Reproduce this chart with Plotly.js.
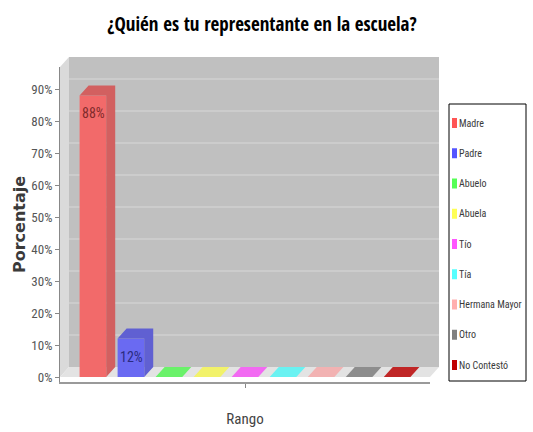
<!DOCTYPE html>
<html>
<head>
<meta charset="utf-8">
<script src="https://cdn.plot.ly/plotly-3.0.1.min.js"></script>
<style>html,body{margin:0;padding:0;background:#fff;}#chart{width:533px;height:432px;}</style>
</head>
<body>
<div id="chart"></div>
<script>
// ---- data ----
const categories = ['Rango'];
const seriesNames = ['Madre', 'Padre', 'Abuelo', 'Abuela', 'Tío', 'Tía', 'Hermana Mayor', 'Otro', 'No Contestó'];
const values = [88, 12, 0, 0, 0, 0, 0, 0, 0];
const yTickVals = [0, 10, 20, 30, 40, 50, 60, 70, 80, 90];
const yTickText = ['0%', '10%', '20%', '30%', '40%', '50%', '60%', '70%', '80%', '90%'];

// ---- styles ----
const baseColors = [[255,85,85],[85,85,255],[85,255,85],[255,255,85],[255,85,255],[85,255,255],[255,175,175],[128,128,128],[192,0,0]];
const wallGray = 192, alpha = 0.8;
const rgb = c => `rgb(${c.map(v => Math.round(v)).join(',')})`;
const blend = (c, f) => c.map(v => v * f * alpha + wallGray * (1 - alpha));
const frontColors = baseColors.map(c => rgb(blend(c, 1)));
const shadeColors = baseColors.map(c => rgb(blend(c, 0.84)));
const labelColors = baseColors.map(c => rgb(c.map(v => v * 0.5)));
const legendColors = baseColors.map(rgb);

// geometry of the frame (pixels)
const M = {l: 60, r: 103, t: 67, b: 50};
const plotW = 533 - M.l - M.r, plotH = 432 - M.t - M.b;
const zeroPx = 377, pxPerPct = 3.2, depthX = 9, depthY = 10;
const px2x = p => (p - M.l) / plotW;
const py2y = p => (M.t + plotH - p) / plotH;
const yRange = [-(M.t + plotH - zeroPx) / pxPerPct, (zeroPx - M.t) / pxPerPct];
const bargap = 0.075, bargroupgap = 0.3;
const nS = values.length;
const slot = (1 - bargap) / nS;
const bw = slot * (1 - bargroupgap);
const dxU = depthX / plotW;          // x axis range spans 1 unit over plotW px
const dyU = depthY / pxPerPct;

const COND = 'Roboto Condensed, DejaVu Sans Condensed, sans-serif';
const TITLEF = 'Open Sans Condensed, Roboto Condensed, sans-serif';

const traces = [];
// front faces
seriesNames.forEach((name, i) => {
  traces.push({
    type: 'bar', name: name, x: categories, y: [values[i]],
    marker: {color: frontColors[i], line: {width: 0}},
    hoverinfo: 'skip', showlegend: false, xaxis: 'x', yaxis: 'y'
  });
});
// 3D top/side faces
const annotations = [];
seriesNames.forEach((name, i) => {
  const v = values[i];
  const c = -(1 - bargap) / 2 + (i + 0.5) * slot;
  const L = c - bw / 2, R = c + bw / 2;
  traces.push({
    type: 'scatter', mode: 'lines', xaxis: 'x2', yaxis: 'y',
    x: [L, L + dxU, R + dxU, R + dxU, R, R, L],
    y: [v, v + dyU, v + dyU, dyU, 0, v, v],
    fill: 'toself', fillcolor: v > 0 ? shadeColors[i] : frontColors[i],
    line: {width: 0}, hoverinfo: 'skip', showlegend: false
  });
  if (v > 0) {
    annotations.push({
      xref: 'x2', yref: 'y', x: L, y: v, xanchor: 'left', yanchor: 'top',
      yshift: -8, xshift: 0, showarrow: false, text: v + '%',
      font: {family: COND, size: 14, color: labelColors[i]}
    });
  }
});

// legend (drawn as text + swatches)
const legTop = 123, legStep = 30.25;
const shapes = [];
// walls
const fx0 = M.l, fx1 = M.l + plotW, by0 = M.t - depthY;
shapes.push({type: 'path', xref: 'paper', yref: 'paper', layer: 'below', line: {width: 0}, fillcolor: '#dadada',
  path: `M${px2x(fx0)},${py2y(zeroPx)} L${px2x(fx0)},${py2y(M.t)} L${px2x(fx0 + depthX)},${py2y(by0)} L${px2x(fx0 + depthX)},${py2y(zeroPx - depthY)} Z`});
shapes.push({type: 'rect', xref: 'paper', yref: 'paper', layer: 'below', line: {width: 0}, fillcolor: '#c0c0c0',
  x0: px2x(fx0 + depthX), x1: px2x(fx1 + depthX), y0: py2y(zeroPx - depthY), y1: py2y(by0)});
shapes.push({type: 'path', xref: 'paper', yref: 'paper', layer: 'below', line: {width: 0}, fillcolor: '#e3e3e3',
  path: `M${px2x(fx0)},${py2y(zeroPx)} L${px2x(fx0 + depthX)},${py2y(zeroPx - depthY)} L${px2x(fx1 + depthX)},${py2y(zeroPx - depthY)} L${px2x(fx1)},${py2y(zeroPx)} Z`});
// back-wall gridlines
yTickVals.filter(t => t > 0).forEach(t => {
  const p = zeroPx - t * pxPerPct - depthY;
  shapes.push({type: 'line', xref: 'paper', yref: 'paper', layer: 'below', line: {width: 1.5, color: '#d0d0d0'},
    x0: px2x(fx0 + depthX), x1: px2x(fx1 + depthX), y0: py2y(p), y1: py2y(p)});
});
// legend box
shapes.push({type: 'rect', xref: 'paper', yref: 'paper', line: {width: 1, color: '#000'}, fillcolor: '#fff',
  x0: px2x(449), x1: px2x(526), y0: py2y(381), y1: py2y(104)});
seriesNames.forEach((name, i) => {
  const cy = legTop + i * legStep;
  shapes.push({type: 'rect', xref: 'paper', yref: 'paper', line: {width: 0}, fillcolor: legendColors[i],
    x0: px2x(452), x1: px2x(457), y0: py2y(cy + 5), y1: py2y(cy - 5)});
  annotations.push({xref: 'paper', yref: 'paper', x: px2x(457), y: py2y(cy), xanchor: 'left', yanchor: 'middle',
    showarrow: false, text: name, font: {family: COND, size: 10, color: '#3a3a3a'}});
});

const layout = {
  width: 533, height: 432,
  margin: M,
  paper_bgcolor: '#fff', plot_bgcolor: 'rgba(0,0,0,0)',
  showlegend: false,
  barmode: 'group', bargap: bargap, bargroupgap: bargroupgap,
  title: {text: '¿Quién es tu representante en la escuela?', x: 262 / 533, xanchor: 'center', y: 1 - 24 / 432, yanchor: 'middle',
    font: {family: TITLEF, size: 19, weight: 'bold', color: '#000'}},
  xaxis: {type: 'category', range: [-0.5, 0.5], showticklabels: false, ticks: 'outside', ticklen: 4, tickcolor: '#888',
    showline: true, linecolor: '#9a9a9a', linewidth: 1.5, showgrid: false, zeroline: false, fixedrange: true,
    title: {text: 'Rango', standoff: 27, font: {family: COND, size: 15, color: '#444'}}},
  xaxis2: {overlaying: 'x', range: [-0.5, 0.5], visible: false, fixedrange: true},
  yaxis: {range: yRange, tickvals: yTickVals, ticktext: yTickText, ticks: 'outside', ticklen: 4, tickcolor: '#888',
    showline: true, linecolor: '#888', linewidth: 1, showgrid: false, zeroline: false, fixedrange: true,
    tickfont: {family: COND, size: 13, color: '#555'},
    title: {text: 'Porcentaje', standoff: 1, font: {family: 'DejaVu Sans', size: 16, weight: 'bold', color: '#3a3a3a'}}},
  shapes: shapes,
  annotations: annotations
};

Plotly.newPlot('chart', traces, layout, {displayModeBar: false, staticPlot: true});
</script>
</body>
</html>
